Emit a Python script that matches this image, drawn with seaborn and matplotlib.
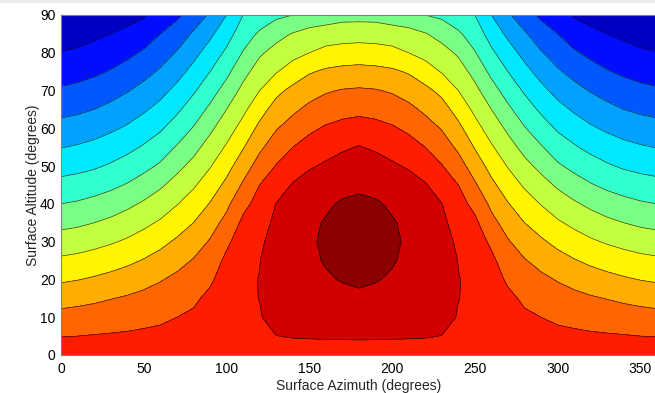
import numpy as np
import matplotlib
matplotlib.use("Agg")
import matplotlib.pyplot as plt
from matplotlib.colors import LinearSegmentedColormap
from matplotlib.patches import Rectangle
import seaborn as sns

# Surface altitude samples (degrees) shared by every azimuth column
altitude = [0, 5, 10, 15, 20, 25, 30, 35, 40, 45,
            50, 55, 60, 65, 70, 75, 80, 85, 90]

# Annual irradiation on the surface, one list per surface azimuth (degrees)
col_000 = [1765, 1697, 1632, 1561, 1487, 1417, 1345, 1272, 1200, 1130, 1062, 997, 934, 872, 812, 757, 703, 652, 600]
col_010 = [1765, 1700, 1638, 1571, 1497, 1427, 1355, 1283, 1211, 1141, 1073, 1009, 946, 883, 824, 768, 714, 662, 610]
col_020 = [1765, 1705, 1645, 1583, 1511, 1442, 1371, 1300, 1229, 1157, 1088, 1025, 962, 900, 841, 784, 732, 680, 630]
col_030 = [1765, 1709, 1653, 1597, 1528, 1459, 1390, 1321, 1250, 1179, 1111, 1048, 985, 924, 865, 806, 753, 700, 648]
col_040 = [1765, 1713, 1662, 1610, 1547, 1480, 1413, 1347, 1279, 1207, 1140, 1075, 1012, 953, 894, 835, 778, 722, 667]
col_050 = [1765, 1719, 1672, 1625, 1570, 1506, 1442, 1378, 1313, 1243, 1174, 1110, 1049, 988, 929, 871, 812, 750, 690]
col_060 = [1765, 1724, 1683, 1639, 1594, 1535, 1475, 1412, 1350, 1286, 1214, 1150, 1088, 1029, 971, 912, 856, 800, 744]
col_070 = [1765, 1733, 1700, 1662, 1620, 1570, 1514, 1455, 1396, 1336, 1274, 1208, 1145, 1083, 1025, 966, 907, 845, 782]
col_080 = [1765, 1740, 1715, 1684, 1644, 1606, 1555, 1500, 1444, 1388, 1329, 1269, 1206, 1147, 1088, 1029, 971, 912, 843]
col_090 = [1765, 1760, 1745, 1722, 1685, 1646, 1608, 1558, 1505, 1450, 1394, 1339, 1281, 1219, 1159, 1100, 1041, 980, 913]
col_100 = [1765, 1772, 1772, 1762, 1745, 1722, 1680, 1630, 1578, 1522, 1467, 1411, 1356, 1300, 1238, 1176, 1118, 1059, 1000]
col_110 = [1765, 1780, 1788, 1790, 1786, 1775, 1755, 1720, 1675, 1613, 1553, 1494, 1435, 1379, 1326, 1269, 1206, 1153, 1100]
col_120 = [1765, 1785, 1796, 1801, 1802, 1798, 1785, 1763, 1733, 1700, 1641, 1582, 1524, 1463, 1400, 1344, 1286, 1214, 1143]
col_130 = [1765, 1799, 1822, 1838, 1845, 1843, 1835, 1820, 1802, 1755, 1705, 1650, 1594, 1539, 1475, 1394, 1335, 1266, 1180]
col_140 = [1765, 1804, 1830, 1853, 1866, 1870, 1866, 1853, 1833, 1807, 1756, 1700, 1641, 1582, 1524, 1445, 1369, 1306, 1200]
col_150 = [1765, 1806, 1838, 1862, 1878, 1887, 1890, 1885, 1870, 1843, 1789, 1737, 1682, 1624, 1560, 1491, 1400, 1329, 1240]
col_160 = [1765, 1807, 1845, 1874, 1893, 1905, 1912, 1906, 1890, 1860, 1814, 1763, 1711, 1652, 1590, 1515, 1430, 1346, 1248]
col_170 = [1765, 1808, 1850, 1882, 1904, 1925, 1935, 1928, 1908, 1879, 1835, 1788, 1729, 1669, 1606, 1526, 1442, 1355, 1266]
col_180 = [1765, 1809, 1852, 1886, 1912, 1933, 1942, 1936, 1916, 1886, 1845, 1805, 1741, 1676, 1612, 1531, 1447, 1359, 1267]
col_190 = [1765, 1808, 1850, 1882, 1904, 1925, 1935, 1928, 1908, 1879, 1835, 1788, 1729, 1669, 1606, 1526, 1442, 1355, 1266]
col_200 = [1765, 1807, 1845, 1874, 1893, 1905, 1912, 1906, 1890, 1860, 1814, 1763, 1711, 1652, 1590, 1515, 1430, 1346, 1248]
col_210 = [1765, 1806, 1838, 1862, 1878, 1887, 1890, 1885, 1870, 1843, 1789, 1737, 1682, 1624, 1560, 1491, 1400, 1329, 1240]
col_220 = [1765, 1804, 1830, 1853, 1866, 1870, 1866, 1853, 1833, 1807, 1756, 1700, 1641, 1582, 1524, 1445, 1369, 1306, 1200]
col_230 = [1765, 1799, 1822, 1838, 1845, 1843, 1835, 1820, 1802, 1755, 1705, 1650, 1594, 1539, 1475, 1394, 1335, 1266, 1180]
col_240 = [1765, 1785, 1796, 1801, 1802, 1798, 1785, 1763, 1733, 1700, 1641, 1582, 1524, 1463, 1400, 1344, 1286, 1214, 1143]
col_250 = [1765, 1780, 1788, 1790, 1786, 1775, 1755, 1720, 1675, 1613, 1553, 1494, 1435, 1379, 1326, 1269, 1206, 1153, 1100]
col_260 = [1765, 1772, 1772, 1762, 1745, 1722, 1680, 1630, 1578, 1522, 1467, 1411, 1356, 1300, 1238, 1176, 1118, 1059, 1000]
col_270 = [1765, 1760, 1745, 1722, 1685, 1646, 1608, 1558, 1505, 1450, 1394, 1339, 1281, 1219, 1159, 1100, 1041, 980, 913]
col_280 = [1765, 1740, 1715, 1684, 1644, 1606, 1555, 1500, 1444, 1388, 1329, 1269, 1206, 1147, 1088, 1029, 971, 912, 843]
col_290 = [1765, 1733, 1700, 1662, 1620, 1570, 1514, 1455, 1396, 1336, 1274, 1208, 1145, 1083, 1025, 966, 907, 845, 782]
col_300 = [1765, 1724, 1683, 1639, 1594, 1535, 1475, 1412, 1350, 1286, 1214, 1150, 1088, 1029, 971, 912, 856, 800, 744]
col_310 = [1765, 1719, 1672, 1625, 1570, 1506, 1442, 1378, 1313, 1243, 1174, 1110, 1049, 988, 929, 871, 812, 750, 690]
col_320 = [1765, 1713, 1662, 1610, 1547, 1480, 1413, 1347, 1279, 1207, 1140, 1075, 1012, 953, 894, 835, 778, 722, 667]
col_330 = [1765, 1709, 1653, 1597, 1528, 1459, 1390, 1321, 1250, 1179, 1111, 1048, 985, 924, 865, 806, 753, 700, 648]
col_340 = [1765, 1705, 1645, 1583, 1511, 1442, 1371, 1300, 1229, 1157, 1088, 1025, 962, 900, 841, 784, 732, 680, 630]
col_350 = [1765, 1700, 1638, 1571, 1497, 1427, 1355, 1283, 1211, 1141, 1073, 1009, 946, 883, 824, 768, 714, 662, 610]
col_360 = [1765, 1697, 1632, 1561, 1487, 1417, 1345, 1272, 1200, 1130, 1062, 997, 934, 872, 812, 757, 703, 652, 600]

azimuth = [0, 10, 20, 30, 40, 50, 60, 70, 80, 90, 100, 110, 120,
           130, 140, 150, 160, 170, 180, 190, 200, 210, 220, 230, 240,
           250, 260, 270, 280, 290, 300, 310, 320, 330, 340, 350, 360]
columns = [col_000, col_010, col_020, col_030, col_040, col_050, col_060,
           col_070, col_080, col_090, col_100, col_110, col_120, col_130,
           col_140, col_150, col_160, col_170, col_180, col_190, col_200,
           col_210, col_220, col_230, col_240, col_250, col_260, col_270,
           col_280, col_290, col_300, col_310, col_320, col_330, col_340,
           col_350, col_360]

contour_levels = [700, 800, 900, 1000, 1100, 1200, 1300,
                  1400, 1500, 1600, 1700, 1800, 1900]

xticks = [0, 50, 100, 150, 200, 250, 300, 350]
yticks = [0, 10, 20, 30, 40, 50, 60, 70, 80, 90]

sns.set_style("white")
plt.rcParams["font.family"] = ["Liberation Sans", "DejaVu Sans"]

# MATLAB-style jet colormap
jet = LinearSegmentedColormap("mjet", {
    "red":   [(0, 0, 0), (3/8, 0, 0), (5/8, 1, 1), (7/8, 1, 1), (1, 0.5, 0.5)],
    "green": [(0, 0, 0), (1/8, 0, 0), (3/8, 1, 1), (5/8, 1, 1), (7/8, 0, 0), (1, 0, 0)],
    "blue":  [(0, 0.5, 0.5), (1/8, 1, 1), (3/8, 1, 1), (5/8, 0, 0), (1, 0, 0)],
})
n_bands = len(contour_levels) + 1
band_colors = [jet(0.07 + 0.0705 * i) for i in range(n_bands)]

Z = np.column_stack(columns).astype(float)
X, Y = np.meshgrid(azimuth, altitude)

fig = plt.figure(figsize=(6.55, 3.93), dpi=100)
fig.patch.set_facecolor("white")
# thin grey window strip along the top edge
fig.add_artist(Rectangle((0, 390 / 393), 1, 3 / 393, transform=fig.transFigure,
                         facecolor="#ececec", edgecolor="none"))
ax = fig.add_axes([61 / 655, 38 / 393, 596 / 655, 340 / 393])

fill_levels = [Z.min() - 1] + contour_levels + [Z.max() + 1]
ax.contourf(X, Y, Z, levels=fill_levels, colors=band_colors)
ax.contour(X, Y, Z, levels=contour_levels, colors="k",
           linewidths=0.5, alpha=0.75)

ax.set_xlim(0, 360)
ax.set_ylim(0, 90)
ax.set_xticks(xticks)
ax.set_yticks(yticks)
ax.tick_params(axis="both", length=0, labelsize=10, colors="black")
ax.tick_params(axis="x", pad=5)
ax.tick_params(axis="y", pad=4)
ax.set_xlabel("Surface Azimuth (degrees)", fontsize=10, labelpad=2)
ax.set_ylabel("Surface Altitude (degrees)", fontsize=10, labelpad=0)
for side in ["left", "bottom", "top", "right"]:
    ax.spines[side].set_color("#808080")
    ax.spines[side].set_linewidth(0.8)

fig.savefig("out.png", dpi=100)
